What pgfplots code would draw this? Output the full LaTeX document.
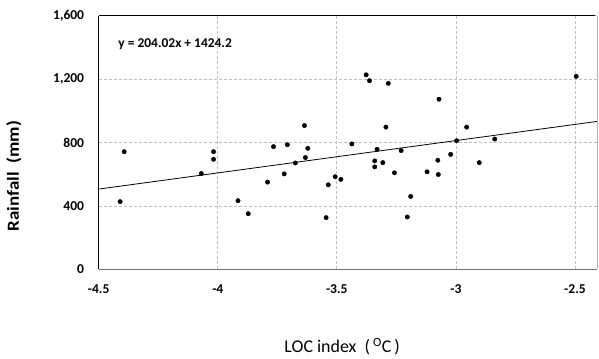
\documentclass[border=0pt]{standalone}
\usepackage{fontspec}
\setmainfont{Carlito}
\usepackage{pgfplots}
\pgfplotsset{compat=1.18}
\begin{document}
\begin{tikzpicture}
\begin{axis}[
  scale only axis,
  width=498.3bp, height=253.6bp,
  xmin=-4.5, xmax=-2.4076,
  ymin=0, ymax=1600,
  xtick={-4.5,-4,-3.5,-3,-2.5},
  ytick={0,400,800,1200,1600},
  major tick length=0pt,
  axis line style={draw=none},
  grid=major,
  major grid style={draw=black!25, line width=0.7bp, dash pattern=on 3bp off 2bp},
  /pgf/number format/assume math mode=true,
  /pgf/number format/1000 sep={,},
  ticklabel style={font=\bfseries\fontsize{13.6}{16}\selectfont, inner sep=0pt},
  xticklabel style={anchor=center, yshift=-19.7bp},
  yticklabel style={anchor=east, xshift=-14.4bp},
  xlabel={LOC index~~(\,\textsuperscript{O}C\,)},
  xlabel style={font=\fontsize{18}{21}\selectfont, at={(rel axis cs:0.4886,0)}, anchor=center, yshift=-77.7bp},
  ylabel={\scalebox{1.12}[1]{Rainfall~~(mm)}},
  ylabel style={font=\bfseries\fontsize{17}{20}\selectfont, at={(rel axis cs:-0.170,0.367)}, anchor=center, rotate=0},
  clip=false,
]
\addplot[only marks, mark=*, mark size=2.2bp, black] coordinates {
(-4.393,742) (-4.410,427) (-4.018,742) (-4.018,694) (-4.069,604) (-3.915,433) (-3.872,351)
(-3.791,550) (-3.766,774) (-3.721,602) (-3.708,786) (-3.674,671) (-3.636,907) (-3.632,705)
(-3.622,763) (-3.545,326) (-3.536,533) (-3.507,584) (-3.483,567) (-3.437,791) (-3.377,1227)
(-3.363,1190) (-3.284,1173) (-3.294,897) (-3.341,684) (-3.341,646) (-3.331,757) (-3.307,673)
(-3.258,609) (-3.230,749) (-3.190,460) (-3.204,330)
(-3.071,1073) (-3.121,615) (-3.076,688) (-3.074,598) (-3.022,725) (-2.997,811) (-2.955,897)
(-2.902,673) (-2.837,822) (-2.495,1217)
};
\addplot[black, line width=0.8bp] coordinates {(-4.5,506.11) (-2.4076,933.0)};
\draw[black!30, line width=0.7bp] (rel axis cs:1,0) -- (rel axis cs:1,1);
\draw[black, line width=1.2bp] (rel axis cs:0,0) -- (rel axis cs:0,1);
\draw[black!55, line width=1.6bp] (rel axis cs:0,0) -- (rel axis cs:1,0);
\draw[black, line width=1.6bp] (rel axis cs:0,1) -- (rel axis cs:0.996,1);
\node[anchor=west, inner sep=0pt, font=\bfseries\fontsize{13.5}{16}\selectfont] at (axis cs:-4.418,1420) {y = 204.02x + 1424.2};
\end{axis}
\pgfresetboundingbox
\path (-98.7bp,-89.7bp) rectangle (500.3bp,269.3bp);
\end{tikzpicture}
\end{document}
